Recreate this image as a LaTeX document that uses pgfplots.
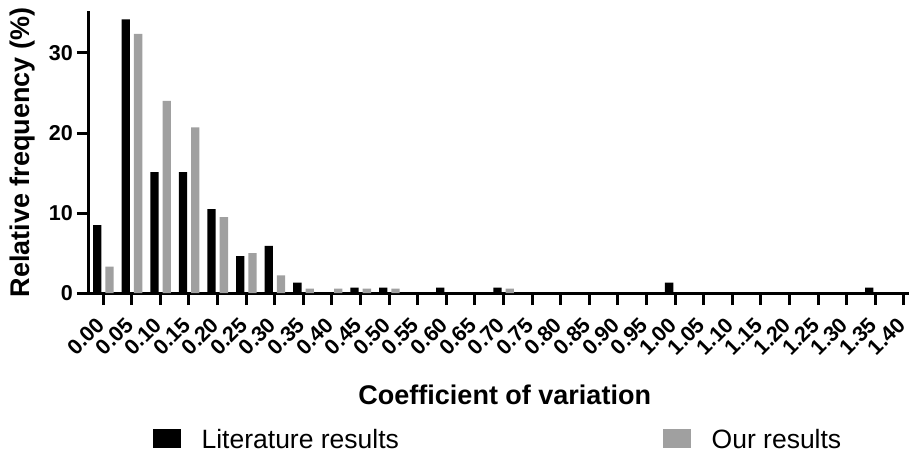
\documentclass[border=0pt]{standalone}
\usepackage{pgfplots}
\pgfplotsset{compat=1.18}
\usepackage{fontspec}
\setmainfont{Liberation Sans}
\definecolor{ourgray}{RGB}{160,160,160}
\begin{document}
\begin{tikzpicture}
\begin{axis}[
    scale only axis,
    width=820pt, height=282pt,
    xmin=-0.497, xmax=28.18,
    ymin=0, ymax=35.25,
    axis x line=bottom, axis y line=left,
    axis line style={-, line width=3pt},
    tick align=outside,
    major tick length=12pt,
    tick style={line width=3pt, black},
    xtick={0,...,28},
    xticklabels={0.00,0.05,0.10,0.15,0.20,0.25,0.30,0.35,0.40,0.45,0.50,0.55,0.60,0.65,0.70,0.75,0.80,0.85,0.90,0.95,1.00,1.05,1.10,1.15,1.20,1.25,1.30,1.35,1.40},
    ytick={0,10,20,30},
    /pgf/number format/assume math mode=true,
    ticklabel style={font=\fontsize{21.5}{25}\selectfont\bfseries},
    xticklabel style={xshift=-1pt, yshift=-15pt, rotate=45, anchor=east, inner sep=2pt},
    yticklabel style={xshift=-2pt, inner sep=2pt},
    xlabel={Coefficient of variation},
    ylabel={Relative frequency (\%)},
    xlabel style={at={(axis description cs:0.507,-0.362)}, anchor=center, font=\fontsize{27}{30}\selectfont\bfseries},
    ylabel style={at={(axis description cs:-0.0805,0.498)}, anchor=center, font=\fontsize{27}{30}\selectfont\bfseries},
    legend columns=2,
    legend cell align=left,
    legend style={draw=none, fill=none, inner sep=0pt,
        at={(axis description cs:0.0777,-0.482)}, anchor=north west,
        font=\fontsize{26.5}{30}\selectfont,
        nodes={inner sep=0pt},
        /tikz/every odd column/.append style={column sep=20.7pt},
        /tikz/every even column/.append style={column sep=264pt}},
]
\addplot[ybar, bar width=8.3pt, bar shift=-6pt, fill=black, draw=none,
    legend image code/.code={\fill[black] (0pt,-7.9pt) rectangle (28pt,10.7pt);}]
    coordinates {
    (0,8.5) (1,34.2) (2,15.1) (3,15.1) (4,10.5) (5,4.6) (6,5.9) (7,1.3)
    (9,0.66) (10,0.66) (12,0.66) (14,0.66) (20,1.3) (27,0.66)
};
\addlegendentry{Literature results}
\addplot[ybar, bar width=8.3pt, bar shift=6.3pt, fill=ourgray, draw=none,
    legend image code/.code={\fill[ourgray] (0pt,-7.9pt) rectangle (28pt,10.7pt);}]
    coordinates {
    (0,3.3) (1,32.4) (2,24.0) (3,20.7) (4,9.5) (5,5.0) (6,2.2) (7,0.55)
    (8,0.55) (9,0.55) (10,0.55) (14,0.55)
};
\addlegendentry{Our results}
\end{axis}
\pgfresetboundingbox
\path (-89pt,-162pt) rectangle (820pt,293pt);
\end{tikzpicture}
\end{document}
